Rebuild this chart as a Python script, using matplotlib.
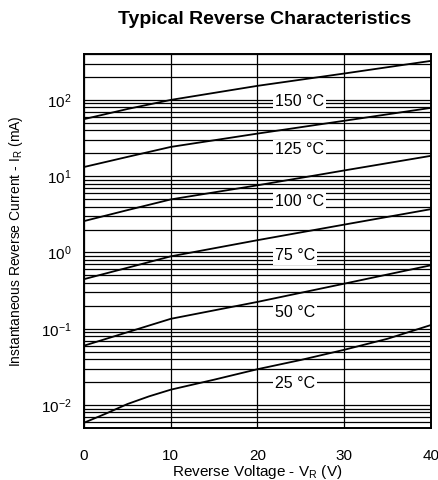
import matplotlib
matplotlib.use("Agg")
import matplotlib.pyplot as plt
from matplotlib.ticker import LogLocator, NullFormatter, FixedLocator

plt.rcParams['font.family'] = ['Liberation Sans', 'DejaVu Sans']
plt.rcParams['mathtext.fontset'] = 'custom'
plt.rcParams['mathtext.rm'] = 'Liberation Sans'
plt.rcParams['mathtext.it'] = 'Liberation Sans'

# Data (V_R in volts, I_R in mA)
v_150 = [0, 5, 10, 20, 30, 40]
i_150 = [56, 76, 100, 153, 222, 325]
v_125 = [0, 5, 10, 20, 30, 40]
i_125 = [13.2, 17.9, 24.2, 36.2, 53.3, 78.7]
v_100 = [0, 5, 10, 20, 30, 40]
i_100 = [2.58, 3.59, 4.96, 7.6, 11.9, 18.5]
v_75 = [0, 5, 10, 20, 30, 40]
i_75 = [0.447, 0.63, 0.89, 1.45, 2.32, 3.70]
v_50 = [0, 5, 10, 20, 30, 40]
i_50 = [0.060, 0.090, 0.135, 0.225, 0.39, 0.68]
v_25 = [0, 2.5, 5, 7.5, 10, 15, 20, 25, 30, 35, 40]
i_25 = [0.00586, 0.0077, 0.0103, 0.013, 0.0159, 0.0215, 0.0295, 0.039, 0.053, 0.074, 0.112]

curve_labels = ["150 °C", "125 °C", "100 °C", "75 °C", "50 °C", "25 °C"]
label_x = [24.8, 24.8, 24.8, 24.3, 24.3, 24.3]
label_y = [95, 22.5, 4.7, 0.92, 0.161, 0.019]

x_ticks = [0, 10, 20, 30, 40]

fig = plt.figure(figsize=(4.39, 4.80), dpi=100)
ax = fig.add_axes([84/439, 1-428/480, 347/439, 374/480])

ax.set_yscale('log')
ax.set_xlim(0, 40)
ax.set_ylim(0.005, 400)

ax.xaxis.set_major_locator(FixedLocator(x_ticks))
ax.yaxis.set_major_locator(LogLocator(base=10, numticks=20))
ax.yaxis.set_minor_locator(LogLocator(base=10, subs=range(2, 10), numticks=20))
ax.yaxis.set_minor_formatter(NullFormatter())

ax.grid(True, which='major', axis='both', color='black', linewidth=0.9)
ax.grid(True, which='minor', axis='y', color='black', linewidth=0.9)
ax.set_axisbelow(True)

for s in ax.spines.values():
    s.set_linewidth(1.4)
    s.set_color('black')

series = [(v_150, i_150), (v_125, i_125), (v_100, i_100),
          (v_75, i_75), (v_50, i_50), (v_25, i_25)]
for (vx, iy) in series:
    ax.plot(vx, iy, color='black', linewidth=1.3, zorder=3)

for lab, lx, ly in zip(curve_labels, label_x, label_y):
    ax.text(lx, ly, lab, ha='center', va='center', fontsize=11.5,
            bbox=dict(facecolor='white', edgecolor='none', pad=1.5), zorder=4)

ax.tick_params(axis='both', which='both', length=0, labelsize=11)
ax.tick_params(axis='x', pad=15)
ax.tick_params(axis='y', pad=9)

ax.set_xlabel('Reverse Voltage - V$_R$ (V)', fontsize=11)
ax.set_ylabel('Instantaneous Reverse Current - I$_R$ (mA)', fontsize=10)
ax.xaxis.set_label_coords(0.5, (428-463)/374)
ax.yaxis.set_label_coords((25-84)/347, 0.5)

fig.text(265/439, 1-20/480, 'Typical Reverse Characteristics', ha='center', va='center',
         fontsize=14, fontweight='bold')

fig.savefig('out.png', dpi=100)
